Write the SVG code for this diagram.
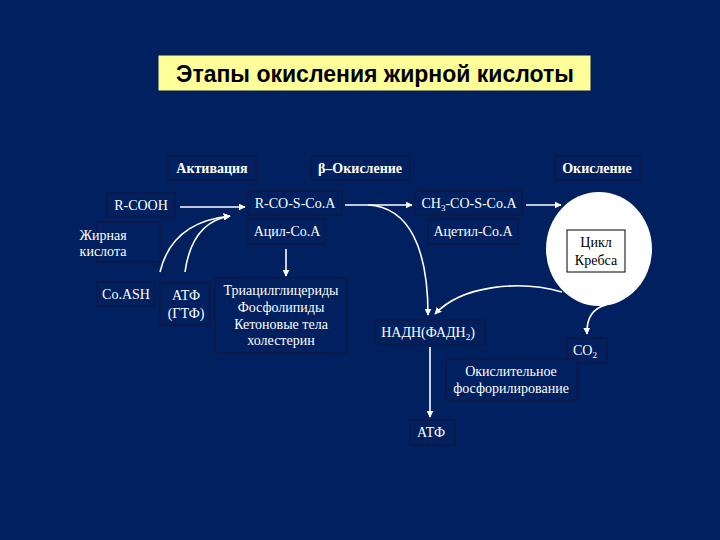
<svg xmlns="http://www.w3.org/2000/svg" width="720" height="540" viewBox="0 0 720 540">
<style>
.bx{fill:#002060;stroke:#0b1a4a;stroke-width:2}
.t{font-family:"Liberation Serif","Times New Roman",serif;font-size:14px;fill:#ffffff;text-anchor:middle}
.b{font-weight:bold}
.c{fill:none;stroke:#ffffff;stroke-width:1.6}
</style>
<defs>
<marker id="ah" viewBox="0 0 10 10" refX="9" refY="5" markerWidth="7" markerHeight="7" orient="auto" markerUnits="userSpaceOnUse">
<path d="M0,0 L10,5 L0,10 z" fill="#ffffff"/>
</marker>
</defs>
<rect width="720" height="540" fill="#002060"/>
<g id="title">
<rect x="158" y="55" width="433" height="36" fill="#ffff99" stroke="#0b1a4a" stroke-width="1"/>
<text x="375" y="82" font-family="Liberation Sans,Arial,sans-serif" font-size="23" font-weight="bold" fill="#000000" text-anchor="middle">Этапы окисления жирной кислоты</text>
</g>
<g id="activation"><rect class="bx" x="168" y="156" width="88" height="24"/><text class="t b" x="212" y="173">Активация</text></g>
<g id="beta"><rect class="bx" x="311" y="156" width="99" height="24"/><text class="t b" x="360" y="173">β–Окисление</text></g>
<g id="oxidation"><rect class="bx" x="555" y="156" width="85" height="24"/><text class="t b" x="597" y="173">Окисление</text></g>
<g id="rcooh"><rect class="bx" x="107" y="193" width="68" height="24"/><text class="t" x="141" y="210">R-COOH</text></g>
<g id="rcosCoA"><rect class="bx" x="248" y="191" width="94" height="24"/><text class="t" x="295" y="208">R-CO-S-Co.A</text></g>
<g id="acylCoA"><rect class="bx" x="248" y="219" width="77" height="25"/><text class="t" x="287" y="236">Ацил-Co.A</text></g>
<g id="ch3CoA"><rect class="bx" x="415" y="191" width="107" height="24"/><text class="t" x="469" y="208">CH<tspan font-size="9" dy="3">3</tspan><tspan dy="-3">-CO-S-Co.A</tspan></text></g>
<g id="acetylCoA"><rect class="bx" x="428" y="219" width="90" height="25"/><text class="t" x="473" y="236">Ацетил-Co.A</text></g>
<g id="fattyacid"><rect class="bx" x="97" y="222" width="63" height="40"/><text class="t" x="103" y="240" text-anchor="start">Жирная</text><text class="t" x="103" y="256" text-anchor="start">кислота</text></g>
<g id="coash"><rect class="bx" x="97" y="282" width="58" height="24"/><text class="t" x="126" y="299">Co.ASH</text></g>
<g id="atpgtp"><rect class="bx" x="160" y="283" width="50" height="42"/><text class="t" x="186" y="300">АТФ</text><text class="t" x="186" y="318">(ГТФ)</text></g>
<g id="lipids"><rect class="bx" x="215" y="278" width="132" height="75"/><text class="t" x="281" y="295">Триацилглицериды</text><text class="t" x="281" y="312">Фосфолипиды</text><text class="t" x="281" y="329">Кетоновые тела</text><text class="t" x="281" y="345">холестерин</text></g>
<g id="krebs">
<ellipse cx="599" cy="249" rx="53" ry="57" fill="#ffffff"/>
<rect x="567" y="230" width="58" height="42" fill="#ffffff" stroke="#000000" stroke-width="1"/>
<text class="t" x="596" y="247" style="fill:#000">Цикл</text>
<text class="t" x="596" y="265" style="fill:#000">Кребса</text>
</g>
<g id="nadh"><rect class="bx" x="375" y="320" width="110" height="25"/><text class="t" x="428" y="337">НАДН(ФАДН<tspan font-size="9" dy="3">2</tspan><tspan dy="-3">)</tspan></text></g>
<g id="co2"><rect class="bx" x="567" y="338" width="40" height="25"/><text class="t" x="585" y="355">CO<tspan font-size="9" dy="3">2</tspan></text></g>
<g id="oxphos"><rect class="bx" x="446" y="359" width="131" height="41"/><text class="t" x="511" y="376">Окислительное</text><text class="t" x="511" y="393">фосфорилирование</text></g>
<g id="atp"><rect class="bx" x="410" y="420" width="45" height="25"/><text class="t" x="431" y="437">АТФ</text></g>
<g id="connectors">
<line class="c" x1="180" y1="207" x2="245" y2="207" marker-end="url(#ah)"/>
<line class="c" x1="345" y1="205" x2="412" y2="205" marker-end="url(#ah)"/>
<line class="c" x1="526" y1="205" x2="561" y2="205" marker-end="url(#ah)"/>
<path class="c" d="M160,272 Q172,222 230,216" marker-end="url(#ah)"/>
<path class="c" d="M185,272 Q192,222 230,216" marker-end="url(#ah)"/>
<line class="c" x1="286" y1="249" x2="286" y2="276" marker-end="url(#ah)"/>
<path class="c" d="M368,205 C410,207 428,250 428,315" marker-end="url(#ah)"/>
<path class="c" d="M562,292 C520,280 462,285 435,314" marker-end="url(#ah)"/>
<path class="c" d="M606,305 Q586,310 587,334" marker-end="url(#ah)"/>
<line class="c" x1="430" y1="347" x2="430" y2="417" marker-end="url(#ah)"/>
</g>
</svg>
